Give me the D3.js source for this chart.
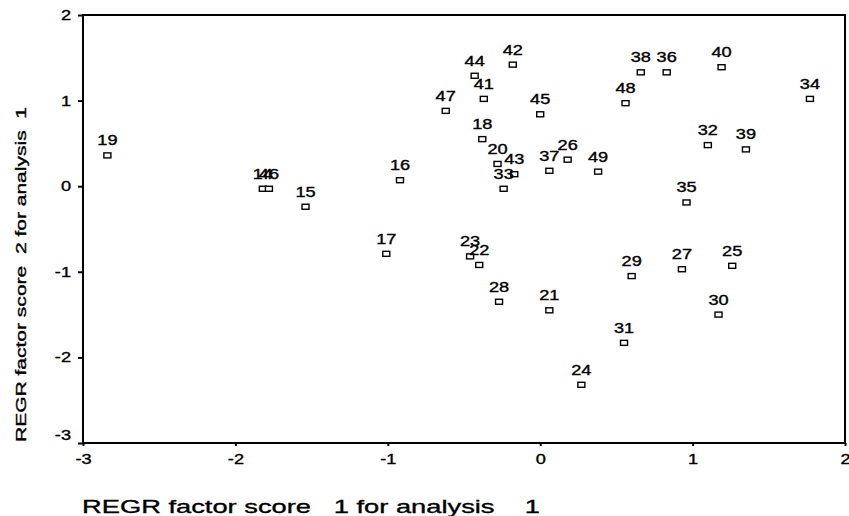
<!DOCTYPE html>
<html>
<head>
<meta charset="utf-8">
<script src="https://cdn.jsdelivr.net/npm/d3@7"></script>
<style>
  body { margin: 0; background: #fff; }
  svg { display: block; }
  text { font-family: "Liberation Sans", Arial, sans-serif; fill: #000; stroke: #000; stroke-width: 0.35px; }
</style>
</head>
<body>
<div id="chart"></div>
<script>
// Case labels and their two factor scores
const caseIds = ["19", "14", "46", "15", "16", "17", "47", "44", "42", "41",
  "45", "18", "20", "43", "33", "37", "26", "49", "23", "22",
  "28", "21", "24", "31", "29", "27", "25", "30", "35", "32",
  "39", "48", "38", "36", "40", "34"];
const score1 = [-2.84, -1.82, -1.78, -1.54, -0.92, -1.01, -0.62, -0.43, -0.18, -0.37,
  0.00, -0.38, -0.28, -0.17, -0.24, 0.06, 0.18, 0.38, -0.46, -0.40,
  -0.27, 0.06, 0.27, 0.55, 0.60, 0.93, 1.26, 1.17, 0.96, 1.10,
  1.35, 0.56, 0.66, 0.83, 1.19, 1.77];
const score2 = [0.36, -0.03, -0.03, -0.24, 0.07, -0.79, 0.88, 1.29, 1.42, 1.02,
  0.84, 0.55, 0.26, 0.14, -0.03, 0.18, 0.31, 0.17, -0.82, -0.92,
  -1.35, -1.45, -2.32, -1.83, -1.05, -0.97, -0.93, -1.50, -0.19, 0.48,
  0.43, 0.97, 1.33, 1.33, 1.39, 1.02];

const xTicks = [-3, -2, -1, 0, 1, 2];
const yTicks = [-3, -2, -1, 0, 1, 2];

const xTitle = "REGR factor score   1 for analysis    1";
const yTitle = "REGR factor score  2 for analysis  1";

const points = caseIds.map((id, i) => ({ id: id, x: score1[i], y: score2[i] }));

// the scan is stretched sideways, so glyphs get widened
const stretch = 1.3;

const width = 849;
const height = 516;
const plot = { left: 83, right: 845, top: 15, bottom: 443 };

const svg = d3.select("#chart")
  .append("svg")
  .attr("width", width)
  .attr("height", height);

const xScale = d3.scaleLinear().domain([-3, 2]).range([plot.left, plot.right]);
const yScale = d3.scaleLinear().domain([-3, 2]).range([plot.bottom, plot.top]);

function widen(sel) {
  sel.each(function () {
    const t = d3.select(this);
    t.attr("x", (+t.attr("x") || 0) / stretch)
      .attr("transform", `scale(${stretch},1)`);
  });
}

// y axis
const yAxis = svg.append("g")
  .attr("transform", `translate(${plot.left},0)`)
  .call(d3.axisLeft(yScale).tickValues(yTicks).tickFormat(d => String(d))
    .tickSize(5).tickPadding(7));
yAxis.select(".domain").remove();
yAxis.selectAll("line").attr("stroke", "#000").attr("stroke-width", 2);
yAxis.selectAll("text").attr("font-size", 14).attr("font-family", null).call(widen);
// lowest label sits a little above its tick in the original
yAxis.selectAll("text").filter(d => d === -3).attr("y", -8);

// x axis
const xAxis = svg.append("g")
  .attr("transform", `translate(0,${plot.bottom})`)
  .call(d3.axisBottom(xScale).tickValues(xTicks).tickFormat(d => String(d))
    .tickSize(3).tickPadding(8));
xAxis.select(".domain").remove();
xAxis.selectAll("line").attr("stroke", "#000").attr("stroke-width", 2);
xAxis.selectAll("text").attr("font-size", 14).attr("font-family", null).call(widen);

// frame
svg.append("rect")
  .attr("x", plot.left)
  .attr("y", plot.top)
  .attr("width", plot.right - plot.left)
  .attr("height", plot.bottom - plot.top)
  .attr("fill", "none")
  .attr("stroke", "#000")
  .attr("stroke-width", 2);

// markers
const pts = svg.append("g")
  .selectAll("g")
  .data(points)
  .enter()
  .append("g")
  .attr("transform", d => `translate(${xScale(d.x)},${yScale(d.y)})`);

pts.append("rect")
  .attr("x", -3.5)
  .attr("y", -2.5)
  .attr("width", 7)
  .attr("height", 5)
  .attr("fill", "#fff")
  .attr("stroke", "#000")
  .attr("stroke-width", 1.4);

pts.append("text")
  .attr("y", -10)
  .attr("text-anchor", "middle")
  .attr("font-size", 14)
  .attr("transform", `scale(${stretch},1)`)
  .text(d => d.id);

// axis titles
svg.append("text")
  .attr("x", 82)
  .attr("y", 513)
  .attr("font-size", 19)
  .attr("textLength", 458)
  .attr("lengthAdjust", "spacingAndGlyphs")
  .style("white-space", "pre")
  .text(xTitle);

svg.append("text")
  .attr("transform", "translate(26,442) rotate(-90)")
  .attr("font-size", 14)
  .attr("textLength", 335)
  .attr("lengthAdjust", "spacingAndGlyphs")
  .style("white-space", "pre")
  .text(yTitle);
</script>
</body>
</html>
